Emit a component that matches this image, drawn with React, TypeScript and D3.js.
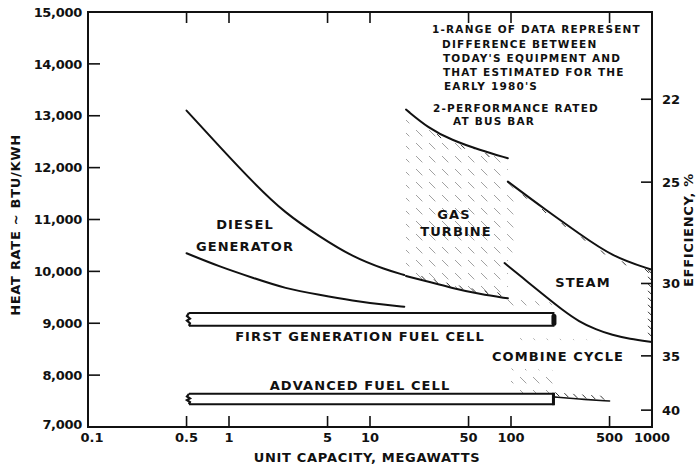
import React from "react";
import * as d3 from "d3";

type P = [number, number];

// ---- axis values ----
const xTickValues = [0.1, 0.5, 1, 5, 10, 50, 100, 500, 1000];
const xTickLabels = ["0.1", "0.5", "1", "5", "10", "50", "100", "500", "1000"];
const yTickValues = [7000, 8000, 9000, 10000, 11000, 12000, 13000, 14000, 15000];
const yTickLabels = ["7,000", "8,000", "9,000", "10,000", "11,000", "12,000", "13,000", "14,000", "15,000"];
const effTickValues = [22, 25, 30, 35, 40];
const effConstant = 293000; // heat rate x efficiency on the right-hand scale

// ---- curves (MW, BTU/KWH) ----
const dieselUpper: P[] = [[0.5, 13100], [0.86, 12400], [1.5, 11700], [2.5, 11120], [4.4, 10670], [7.5, 10280], [13, 10030], [17.5, 9930]];
const dieselLower: P[] = [[0.5, 10350], [0.86, 10090], [1.5, 9870], [2.5, 9670], [4.4, 9545], [7.5, 9435], [13, 9350], [17.5, 9320]];
const gasCapacity = [18, 26, 38, 60, 95];
const gasUpper = [13120, 12760, 12530, 12340, 12180];
const gasLower = [9910, 9800, 9680, 9560, 9480];
const steamUpper: P[] = [[95, 11730], [177, 11180], [304, 10730], [524, 10280], [1000, 10030]];
const steamLower: P[] = [[90, 10160], [135, 9770], [177, 9510], [232, 9255], [304, 9030], [400, 8880], [524, 8770], [688, 8700], [1000, 8640]];
const combinedLower: P[] = [[200, 7580], [300, 7540], [500, 7500]];

// ---- fuel cell bars ----
const firstGenCapacity = [0.52, 200];
const firstGenRate = [9200, 8950];
const advancedCapacity = [0.52, 200];
const advancedRate = [7640, 7440];

// ---- hatched ranges (capacity, upper, lower) ----
const steamEdgeCapacity = [95, 112];
const steamEdgeUpper = [11730, 11580];
const steamEdgeLower = [10400, 10330];
const firstGapCapacity = [95, 195];
const firstGapUpper = [9470, 9400];
const firstGapLower = [9200, 9200];
const advGapCapacity = [100, 200];
const advGapUpper = [8130, 8100];
const advGapLower = [7640, 7640];
const ccTopCapacity = [100, 450];
const ccTopUpper = [8720, 8680];
const ccTopLower = [8560, 8540];

const FONT = "'DejaVu Sans', Verdana, sans-serif";

const x = d3.scaleLog().domain([0.1, 1000]).range([88, 652]);
const y = d3.scaleLinear().domain([7000, 15000]).range([427, 12]);

const line = d3
  .line<P>()
  .x((d) => x(d[0]))
  .y((d) => y(d[1]))
  .curve(d3.curveBasis);

function band(cap: number[], up: number[], lo: number[]) {
  const rows = cap.map((c, i) => ({ c, u: up[i], l: lo[i] }));
  return (
    d3
      .area<{ c: number; u: number; l: number }>()
      .x((d) => x(d.c))
      .y0((d) => y(d.l))
      .y1((d) => y(d.u))
      .curve(d3.curveBasis)(rows) || ""
  );
}

// positions along a polyline (pixel space) every `step` px, for the hairline range marks
function alongPath(pts: P[], step: number, offset: number): P[] {
  const px: P[] = pts.map((d) => [x(d[0]), y(d[1])]);
  const out: P[] = [];
  let next = offset;
  let acc = 0;
  for (let i = 1; i < px.length; i++) {
    const [x0, y0] = px[i - 1];
    const [x1, y1] = px[i];
    const len = Math.hypot(x1 - x0, y1 - y0);
    while (next <= acc + len) {
      const t = (next - acc) / len;
      out.push([x0 + (x1 - x0) * t, y0 + (y1 - y0) * t]);
      next += step;
    }
    acc += len;
  }
  return out;
}

function Hairs({ pts, side, step = 12, offset = 6 }: { pts: P[]; side: "below" | "above"; step?: number; offset?: number }) {
  const marks = alongPath(pts, step, offset);
  return (
    <g stroke="#333" strokeWidth={1} fill="none">
      {marks.map(([mx, my], i) =>
        side === "below" ? (
          <line key={i} x1={mx - 1} y1={my + 1} x2={mx + 3} y2={my + 5} />
        ) : (
          <line key={i} x1={mx - 4} y1={my - 5} x2={mx} y2={my - 1} />
        )
      )}
    </g>
  );
}

function Bar({ cap, rate, cap2 }: { cap: number[]; rate: number[]; cap2: "solid" | "line" }) {
  const x0 = x(cap[0]);
  const x1 = x(cap[1]);
  const yt = y(rate[0]);
  const yb = y(rate[1]);
  const h = yb - yt;
  const zig = `M${x0},${yt} L${x0 - 2},${yt + h * 0.25} L${x0 + 1},${yt + h * 0.45} L${x0 - 2},${yt + h * 0.6} L${x0 + 1},${yt + h * 0.8} L${x0},${yb}`;
  return (
    <g>
      <rect x={x0} y={yt} width={x1 - x0} height={h} fill="#fff" stroke="none" />
      <path d={`M${x0},${yt} L${x1},${yt} L${x1},${yb} L${x0},${yb}`} fill="none" stroke="#111" strokeWidth={2} />
      <path d={zig} fill="none" stroke="#111" strokeWidth={2.2} />
      {cap2 === "solid" ? (
        <rect x={x1 - 2} y={yt + 1} width={5} height={h - 1} rx={2} fill="#111" />
      ) : (
        <line x1={x1} y1={yt - 1} x2={x1} y2={yb + 1} stroke="#111" strokeWidth={3} />
      )}
    </g>
  );
}

export default function App() {
  const gasUpperPts: P[] = gasCapacity.map((c, i) => [c, gasUpper[i]]);
  const gasLowerPts: P[] = gasCapacity.map((c, i) => [c, gasLower[i]]);
  const L = 88, R = 652, T = 12, B = 427;

  // right-axis hairs between the two steam curves
  const axisMarks: number[] = [];
  for (let yy = y(steamUpper[steamUpper.length - 1][1]) + 4; yy < y(steamLower[steamLower.length - 1][1]) - 2; yy += 7) axisMarks.push(yy);

  const txt = { fontFamily: FONT, fontWeight: 700, fill: "#111" } as const;

  return (
    <svg width={699} height={468} style={{ position: "absolute", left: 0, top: 0, background: "#fff" }}>
      <defs>
        <pattern id="hatch" width={13} height={13} patternUnits="userSpaceOnUse">
          <path d="M0,0 L13,13" stroke="#8a8a8a" strokeWidth={1} strokeDasharray="9 9.4" />
        </pattern>
        <pattern id="hatchFaint" width={13} height={13} patternUnits="userSpaceOnUse">
          <path d="M0,0 L13,13" stroke="#a5a5a5" strokeWidth={0.9} strokeDasharray="3 15.4" />
        </pattern>
      </defs>
      <rect x={0} y={0} width={699} height={468} fill="#fff" />

      {/* hatched ranges */}
      <path d={band(gasCapacity, gasUpper, gasLower)} fill="url(#hatch)" opacity={0.8} />
      <path d={band(steamEdgeCapacity, steamEdgeUpper, steamEdgeLower)} fill="url(#hatch)" opacity={0.75} />
      <path d={band(firstGapCapacity, firstGapUpper, firstGapLower)} fill="url(#hatch)" opacity={0.8} />
      <path d={band(advGapCapacity, advGapUpper, advGapLower)} fill="url(#hatch)" opacity={0.8} />
      <path d={band(ccTopCapacity, ccTopUpper, ccTopLower)} fill="url(#hatchFaint)" opacity={0.9} />

      {/* curves */}
      <g fill="none" stroke="#111" strokeWidth={2} strokeLinecap="round">
        <path d={line(dieselUpper) || ""} />
        <path d={line(dieselLower) || ""} />
        <path d={line(gasUpperPts) || ""} />
        <path d={line(gasLowerPts) || ""} />
        <path d={line(steamUpper) || ""} />
        <path d={line(steamLower) || ""} />
        <path d={line(combinedLower) || ""} strokeWidth={1.6} />
      </g>
      <Hairs pts={gasUpperPts} side="below" step={26} offset={40} />
      <Hairs pts={gasLowerPts} side="above" step={13} offset={20} />
      <Hairs pts={steamUpper} side="below" step={24} offset={20} />
      <Hairs pts={combinedLower} side="above" step={9} offset={6} />
      <g stroke="#333" strokeWidth={1}>
        {axisMarks.map((yy, i) => (
          <line key={i} x1={R - 4} y1={yy - 4} x2={R} y2={yy} />
        ))}
      </g>

      {/* fuel cell bars */}
      <Bar cap={firstGenCapacity} rate={firstGenRate} cap2="solid" />
      <Bar cap={advancedCapacity} rate={advancedRate} cap2="line" />

      {/* frame */}
      <rect x={L} y={T} width={R - L} height={B - T} fill="none" stroke="#111" strokeWidth={2} />

      {/* ticks */}
      <g stroke="#111" strokeWidth={1.6}>
        {xTickValues.slice(1, -1).map((v) => (
          <g key={v}>
            <line x1={x(v)} x2={x(v)} y1={B} y2={B - 11} />
            <line x1={x(v)} x2={x(v)} y1={T} y2={T + 11} />
          </g>
        ))}
        {yTickValues.slice(1, -1).map((v) => (
          <line key={v} x1={L} x2={L + 12} y1={y(v)} y2={y(v)} />
        ))}
        {effTickValues.map((e) => (
          <line key={e} x1={R - 11} x2={R} y1={y(effConstant / e)} y2={y(effConstant / e)} />
        ))}
      </g>

      {/* tick labels */}
      <g {...txt} fontSize={13}>
        {xTickValues.map((v, i) => (
          <text key={v} x={x(v) + (i === 0 ? 4 : 0)} y={442} textAnchor="middle">
            {xTickLabels[i]}
          </text>
        ))}
        {yTickValues.map((v, i) => (
          <text key={v} x={82} y={y(v) + (i === 0 ? -3 : 0)} dy="0.36em" textAnchor="end" letterSpacing={-0.3}>
            {yTickLabels[i]}
          </text>
        ))}
        {effTickValues.map((e) => (
          <text key={e} x={R + 10} y={y(effConstant / e)} dy="0.36em" textAnchor="start">
            {e}
          </text>
        ))}
      </g>

      {/* axis titles */}
      <g {...txt} fontSize={13} letterSpacing={0.7}>
        <text x={367} y={462} textAnchor="middle">UNIT CAPACITY, MEGAWATTS</text>
        <text transform="translate(20,225) rotate(-90)" textAnchor="middle">HEAT RATE ~ BTU/KWH</text>
        <text transform="translate(693,230) rotate(-90)" textAnchor="middle">EFFICIENCY, %</text>
      </g>

      {/* chart labels */}
      <g {...txt} fontSize={13} letterSpacing={1.1}>
        <text x={245} y={224} dy="0.36em" textAnchor="middle">DIESEL</text>
        <text x={245} y={246} dy="0.36em" textAnchor="middle">GENERATOR</text>
        <text x={454} y={214} dy="0.36em" textAnchor="middle">GAS</text>
        <text x={456} y={231} dy="0.36em" textAnchor="middle">TURBINE</text>
        <text x={583} y={282} dy="0.36em" textAnchor="middle">STEAM</text>
        <text x={360} y={336} dy="0.36em" textAnchor="middle">FIRST GENERATION FUEL CELL</text>
        <text x={558} y={356} dy="0.36em" textAnchor="middle">COMBINE CYCLE</text>
        <text x={360} y={385} dy="0.36em" textAnchor="middle">ADVANCED FUEL CELL</text>
      </g>

      {/* notes */}
      <g {...txt} fontSize={10.5} letterSpacing={1.2}>
        <text x={432} y={29} dy="0.36em">1-RANGE OF DATA REPRESENT</text>
        <text x={442} y={44} dy="0.36em">DIFFERENCE BETWEEN</text>
        <text x={443} y={58} dy="0.36em">TODAY'S EQUIPMENT AND</text>
        <text x={443} y={72} dy="0.36em">THAT ESTIMATED FOR THE</text>
        <text x={444} y={86} dy="0.36em">EARLY 1980'S</text>
        <text x={433} y={108} dy="0.36em">2-PERFORMANCE RATED</text>
        <text x={453} y={121} dy="0.36em">AT BUS BAR</text>
      </g>
    </svg>
  );
}
